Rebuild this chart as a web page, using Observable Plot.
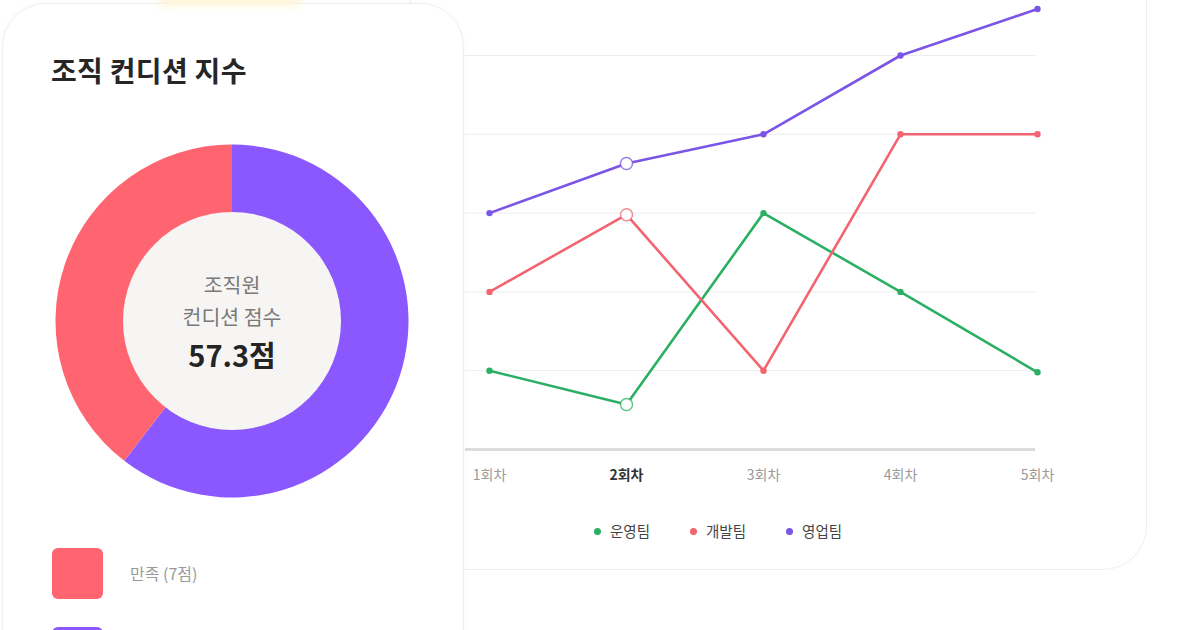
<!DOCTYPE html>
<html><head><meta charset="utf-8">
<script src="https://cdn.jsdelivr.net/npm/d3@7"></script>
<script src="https://cdn.jsdelivr.net/npm/@observablehq/plot@0.6"></script>
<style>
html,body{margin:0;padding:0;width:1200px;height:630px;overflow:hidden;background:#fff;font-family:"Noto Sans CJK KR","Noto Sans",sans-serif;}
.card{position:absolute;background:#fff;border:1.5px solid #efefef;border-radius:44px;box-sizing:border-box;}
#right{left:410px;top:-80px;width:737px;height:650px;}
#left{left:2px;top:3px;width:462px;height:720px;box-shadow:0 0 6px rgba(0,0,0,0.03);}
#title{position:absolute;left:51px;top:50px;font-size:28px;font-weight:700;color:#262626;letter-spacing:0.3px;}
#donut{position:absolute;left:0;top:0;}
#center{position:absolute;left:132px;top:268px;width:200px;text-align:center;}
#center .l{font-size:20.5px;color:#7a7a7a;line-height:32px;}
#center .v{font-size:29px;font-weight:700;color:#242424;margin-top:4px;line-height:36px;}
.sw{position:absolute;left:52px;width:51px;height:51px;border-radius:6px;}
.swl{position:absolute;left:130px;font-size:16px;color:#9a9a9a;}
#line{position:absolute;left:440px;top:0;}
#legend{position:absolute;left:594px;top:520px;font-size:14.5px;color:#444;display:flex;gap:40px;}
#legend span i{display:inline-block;width:7px;height:7px;border-radius:50%;margin-right:9px;vertical-align:middle;position:relative;top:-2px;}
#glow{position:absolute;left:160px;top:-8px;width:140px;height:14px;background:#fff3cf;filter:blur(4px);opacity:0.8;}
</style>
<script>
// ---- data ----
const donutLabels = ["", "만족 (7점)"];
const donutValues = [10.7, 7];
const donutColors = ["#8b57ff", "#ff6570"];

const rounds = ["1회차", "2회차", "3회차", "4회차", "5회차"];
const highlightRound = "2회차";
const teams = ["운영팀", "개발팀", "영업팀"];
const teamColors = ["#2bb063", "#f2646f", "#7b55e6"];
const opsValues = [1, 0.57, 3, 2, 0.98];
const devValues = [2, 2.98, 1, 4, 4];
const salesValues = [3, 3.63, 4, 5, 5.59];
const gridTicks = [1, 2, 3, 4, 5];

window.addEventListener("DOMContentLoaded", () => {
  // ---- donut (Plot with a custom render mark using d3.arc) ----
  const pieData = donutValues.map((v, i) => ({label: donutLabels[i], value: v, color: donutColors[i]}));
  const donut = Plot.plot({
    width: 464, height: 520, margin: 0,
    x: {domain: [0, 464], range: [0, 464]},
    y: {domain: [0, 520], range: [0, 520]},
    marks: [
      (index, scales) => {
        const cx = scales.x(232), cy = scales.y(321);
        const g = d3.create("svg:g").attr("transform", `translate(${cx},${cy})`);
        const arcs = d3.pie().sort(null).value(d => d.value)(pieData);
        const arc = d3.arc().innerRadius(0).outerRadius(176.5);
        g.selectAll("path").data(arcs).join("path").attr("d", arc).attr("fill", d => d.data.color);
        g.append("circle").attr("r", 109).attr("fill", "#f7f5f3");
        return g.node();
      }
    ]
  });
  document.getElementById("donut").appendChild(donut);

  const sw = document.getElementById("swatches");
  pieData.slice().reverse().forEach((d, i) => {
    const top = 548 + i * 79;
    sw.insertAdjacentHTML("beforeend",
      `<div class="sw" style="top:${top}px;background:${d.color}"></div>` +
      (d.label ? `<div class="swl" style="top:${top + 13}px">${d.label}</div>` : ""));
  });

  // ---- line chart ----
  const series = [opsValues, devValues, salesValues];
  const rows = [];
  series.forEach((vals, s) => vals.forEach((v, i) => rows.push({team: teams[s], round: rounds[i], value: v})));

  const line = Plot.plot({
    width: 620, height: 500,
    marginLeft: 25, marginRight: 25, marginTop: 0, marginBottom: 51,
    x: {domain: rounds, type: "point", range: [47, 598], padding: 0, axis: null},
    y: {domain: [0, 5], range: [449, 55], axis: null},
    color: {domain: teams, range: teamColors},
    style: {fontFamily: "'Noto Sans CJK KR', sans-serif", background: "transparent"},
    marks: [
      Plot.ruleY(gridTicks, {stroke: "#ececec", strokeWidth: 1}),
      Plot.ruleY([0], {stroke: "#dcdcdc", strokeWidth: 3}),
      Plot.line(rows, {x: "round", y: "value", z: "team", stroke: "team", strokeWidth: 2.6}),
      Plot.dot(rows.filter(d => d.round !== highlightRound), {x: "round", y: "value", fill: "team", r: 3.2}),
      Plot.dot(rows.filter(d => d.round === highlightRound), {x: "round", y: "value", stroke: "team", fill: "#fff", r: 6, strokeWidth: 1.5, strokeOpacity: 0.75}),
      Plot.text(rounds.filter(r => r !== highlightRound), {x: d => d, frameAnchor: "bottom", dy: 30, fill: "#9a9a9a", fontSize: 14}),
      Plot.text([highlightRound], {x: d => d, frameAnchor: "bottom", dy: 30, fill: "#333", fontSize: 14, fontWeight: 700})
    ]
  });
  document.getElementById("line").appendChild(line);

  document.getElementById("legend").innerHTML = teams.map((t, i) =>
    `<span><i style="background:${teamColors[i]}"></i>${t}</span>`).join("");
});
</script>
</head>
<body>
<div class="card" id="right"></div>
<div id="line"></div>
<div id="legend"></div>
<div class="card" id="left"></div>
<div id="glow"></div>
<div id="title">조직 컨디션 지수</div>
<div id="donut"></div>
<div id="center"><div class="l">조직원</div><div class="l">컨디션 점수</div><div class="v">57.3점</div></div>
<div id="swatches"></div>
</body></html>
